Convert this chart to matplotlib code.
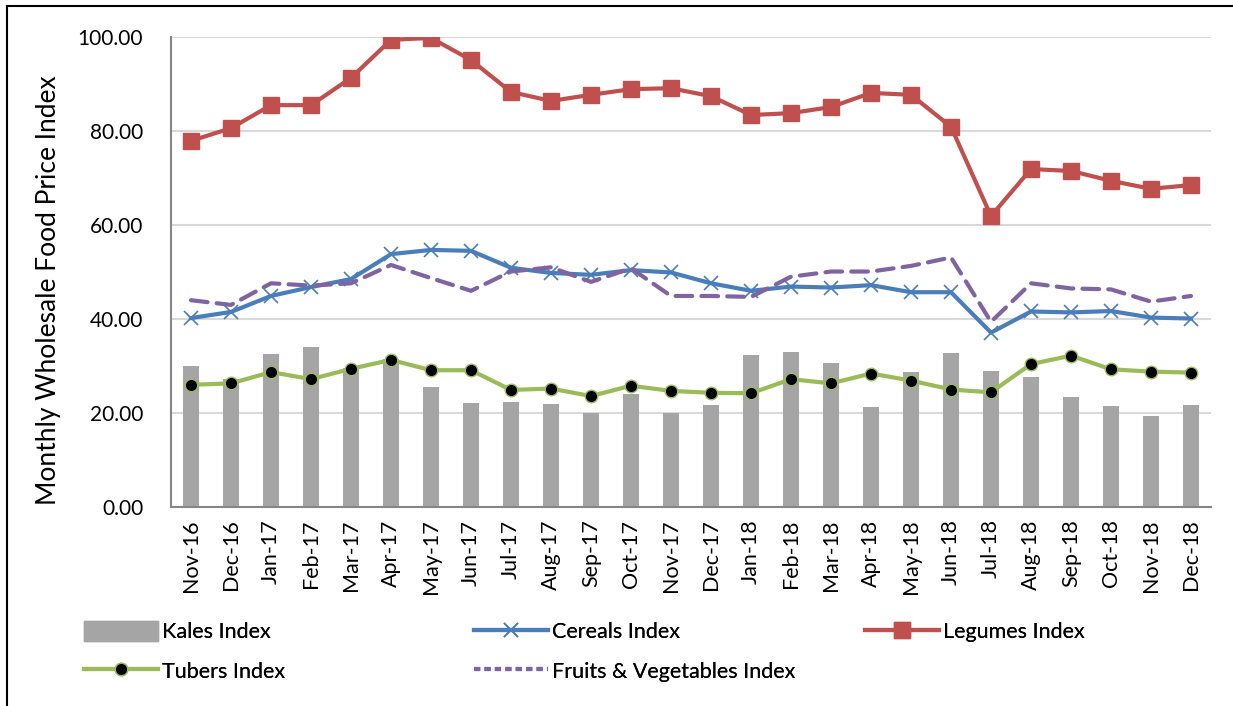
import matplotlib.pyplot as plt
import numpy as np
from matplotlib.lines import Line2D
from matplotlib.patches import Patch

plt.rcParams['font.family'] = ['Lato', 'DejaVu Sans']

months = ['Nov-16', 'Dec-16', 'Jan-17', 'Feb-17', 'Mar-17', 'Apr-17', 'May-17', 'Jun-17',
          'Jul-17', 'Aug-17', 'Sep-17', 'Oct-17', 'Nov-17', 'Dec-17', 'Jan-18', 'Feb-18',
          'Mar-18', 'Apr-18', 'May-18', 'Jun-18', 'Jul-18', 'Aug-18', 'Sep-18', 'Oct-18',
          'Nov-18', 'Dec-18']
kales = [29.9, 27.2, 32.5, 34.1, 29.5, 31.5, 25.6, 22.2, 22.4, 21.9, 20.1, 24.0, 20.1,
         21.8, 32.3, 32.9, 30.7, 21.2, 28.8, 32.7, 28.9, 27.6, 23.3, 21.5, 19.4, 21.8]
cereals = [40.2, 41.5, 44.9, 46.8, 48.5, 53.8, 54.7, 54.5, 50.9, 49.8, 49.4, 50.4, 49.9,
           47.6, 46.0, 46.9, 46.7, 47.2, 45.7, 45.7, 37.1, 41.6, 41.4, 41.7, 40.3, 40.1]
legumes = [77.9, 80.6, 85.5, 85.5, 91.3, 99.4, 99.8, 95.1, 88.3, 86.4, 87.7, 88.9, 89.1,
           87.4, 83.4, 83.8, 85.1, 88.1, 87.7, 80.9, 61.9, 71.9, 71.5, 69.4, 67.7, 68.5]
tubers = [26.0, 26.3, 28.7, 27.2, 29.4, 31.3, 29.1, 29.1, 24.9, 25.2, 23.6, 25.8, 24.7,
          24.3, 24.2, 27.2, 26.3, 28.4, 26.9, 25.0, 24.4, 30.4, 32.2, 29.3, 28.8, 28.6]
fruits_veg = [44.0, 43.0, 47.6, 47.1, 47.6, 51.5, 48.7, 46.0, 50.1, 51.0, 47.9, 50.8, 44.9,
              44.9, 44.7, 49.0, 50.1, 50.1, 51.3, 53.1, 39.4, 47.6, 46.5, 46.3, 43.7, 44.9]

W, H = 1233, 706
fig = plt.figure(figsize=(W / 100, H / 100), dpi=100)
ax = fig.add_axes([171 / W, 1 - 507 / H, (1211 - 171) / W, (507 - 37) / H])

x = np.arange(len(months))

# столбцы и линии
ax.bar(x, kales, width=0.4, color='#A5A5A5', zorder=2)
ax.plot(x, cereals, color='#4A7EBB', lw=3, marker='x', ms=10, mew=1.2, zorder=3)
ax.plot(x, legumes, color='#C0504D', lw=3, marker='s', ms=11, zorder=3)
ax.plot(x, tubers, color='#9BBB59', lw=3, marker='o', ms=9, mfc='black',
        mec='#9BBB59', mew=1, zorder=3)
ax.plot(x, fruits_veg, color='#8064A2', lw=3, ls=(0, (4, 2.2)), dash_capstyle='round',
        zorder=4)

# оси и сетка
ax.set_xlim(-0.5, len(months) - 0.5)
ax.set_ylim(0, 100)
ax.set_yticks(np.arange(0, 101, 20))
ax.set_yticklabels([f'{v:.2f}' for v in np.arange(0, 101, 20)])
ax.set_xticks(x)
ax.set_xticklabels(months, rotation=90)
ax.tick_params(axis='y', length=0, pad=20, labelsize=15)
ax.tick_params(axis='x', length=0, pad=9, labelsize=15.5)
ax.grid(axis='y', color='#D9D9D9', lw=1.5, zorder=0)
ax.set_axisbelow(True)
for s in ['top', 'right']:
    ax.spines[s].set_visible(False)
for s in ['left', 'bottom']:
    ax.spines[s].set_color('#868686')
    ax.spines[s].set_linewidth(1.5)
ax.set_ylabel('Monthly Wholesale Food Price Index', fontsize=19)
ax.yaxis.set_label_coords((61 - 171) / 1040, (507 - 290) / 470)

# легенда по колонкам
h_kales = Patch(color='#A5A5A5')
h_tubers = Line2D([], [], color='#9BBB59', lw=3, marker='o', ms=9, mfc='black', mec='#9BBB59')
h_cereals = Line2D([], [], color='#4A7EBB', lw=3, marker='x', ms=10, mew=1.2)
h_fv = Line2D([], [], color='#8064A2', lw=3, ls=(0, (1.5, 1)))
h_legumes = Line2D([], [], color='#C0504D', lw=3, marker='s', ms=11)

cols = [([h_kales, h_tubers], ['Kales Index', 'Tubers Index'], 65),
        ([h_cereals, h_fv], ['Cereals Index', 'Fruits & Vegetables Index'], 455),
        ([h_legumes], ['Legumes Index'], 846)]
for handles, labels, px in cols:
    leg = fig.legend(handles, labels, loc='upper left', bbox_to_anchor=(px / W, 1 - 602 / H),
                     frameon=False, fontsize=15.5, handlelength=3.4, handleheight=1.0,
                     handletextpad=0.2, labelspacing=0.85)
    fig.add_artist(leg)

# рамка вокруг картинки
fig.add_artist(Line2D([7 / W, 7 / W], [0, 1 - 6 / H], color='black', lw=1.5))
fig.add_artist(Line2D([7 / W, 1], [1 - 6 / H, 1 - 6 / H], color='black', lw=1.5))

plt.savefig('out.png', dpi=100)
